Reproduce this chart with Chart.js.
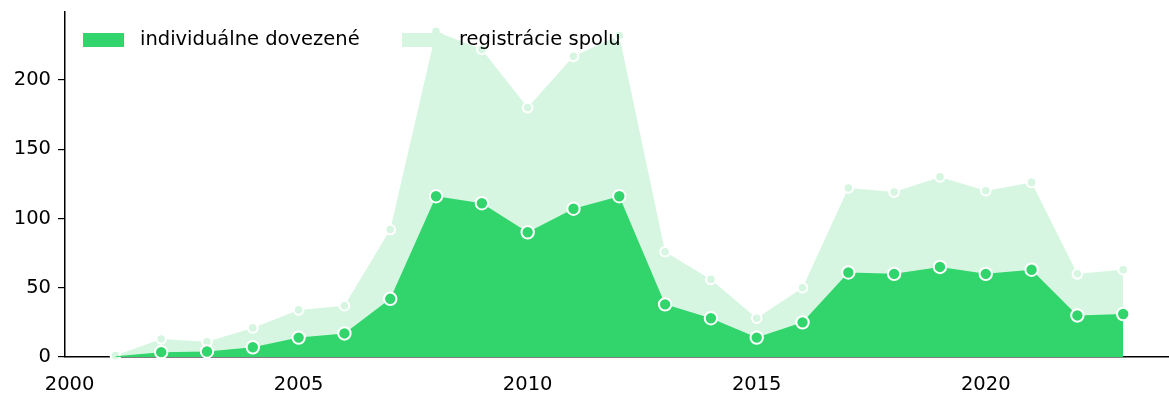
<!DOCTYPE html>
<html>
<head>
<meta charset="utf-8">
<script src="https://cdn.jsdelivr.net/npm/chart.js@4.4.1/dist/chart.umd.min.js"></script>
<style>
    html, body { margin: 0; padding: 0; background: #fff; }
    #wrap { width: 1169px; height: 394px; }
</style>
</head>
<body>
<div id="wrap"><canvas id="grafica" width="1169" height="394"></canvas></div>
<script>
const roky = [2001, 2002, 2003, 2004, 2005, 2006, 2007, 2008, 2009, 2010, 2011, 2012,
              2013, 2014, 2015, 2016, 2017, 2018, 2019, 2020, 2021, 2022, 2023];

const dovezene = [0.5, 3.5, 4, 7, 14, 17, 42, 116, 111, 90, 107, 116,
                  38, 28, 14, 25, 61, 60, 65, 60, 63, 30, 31];

const spolu = [1, 13, 11, 21, 34, 37, 92, 235, 222, 180, 217, 232,
               76, 56, 28, 50, 122, 119, 130, 120, 126, 60, 63];

const xTicks = [2000, 2005, 2010, 2015, 2020];
const yTicks = [0, 50, 100, 150, 200];

const nazvy = ["individuálne dovezené", "registrácie spolu"];

const ZELENA = "#32d46c";
const SVETLA = "#d6f6e2";
const FONT = "'DejaVu Sans', sans-serif";
const VELKOST = 19.5;

// legenda kreslena vnutri grafu
const legendaVnutri = {
    id: "legendaVnutri",
    afterDraw(chart) {
        const ctx = chart.ctx;
        const polozky = [
            { text: nazvy[0], farba: ZELENA, x: 83 },
            { text: nazvy[1], farba: SVETLA, x: 402 }
        ];
        ctx.save();
        ctx.font = VELKOST + "px " + FONT;
        ctx.textBaseline = "middle";
        polozky.forEach(p => {
            ctx.fillStyle = p.farba;
            ctx.fillRect(p.x, 33, 41, 14);
            ctx.fillStyle = "#000";
            ctx.fillText(p.text, p.x + 57, 40);
        });
        ctx.restore();
    }
};

const body = vals => roky.map((r, i) => ({ x: r, y: vals[i] }));

new Chart(document.getElementById("grafica"), {
    type: "line",
    data: {
        datasets: [
            {
                label: nazvy[0],
                data: body(dovezene),
                backgroundColor: ZELENA,
                borderColor: ZELENA,
                borderWidth: 0,
                fill: "origin",
                tension: 0,
                pointBackgroundColor: ZELENA,
                pointBorderColor: "#fff",
                pointBorderWidth: 2,
                pointRadius: roky.map((r, i) => i === 0 ? 0 : 6.2)
            },
            {
                label: nazvy[1],
                data: body(spolu),
                backgroundColor: SVETLA,
                borderColor: SVETLA,
                borderWidth: 0,
                fill: "origin",
                tension: 0,
                pointBackgroundColor: SVETLA,
                pointBorderColor: "#fff",
                pointBorderWidth: 2,
                pointRadius: 4.8
            }
        ]
    },
    options: {
        responsive: false,
        animation: false,
        clip: false,
        layout: { autoPadding: false, padding: { top: 12, right: 0, left: 0, bottom: 0 } },
        plugins: {
            legend: { display: false },
            tooltip: { enabled: false }
        },
        scales: {
            x: {
                type: "linear",
                min: 1999.9,
                max: 2024,
                afterBuildTicks: s => { s.ticks = xTicks.map(v => ({ value: v })); },
                afterFit: s => { s.height = 37; s.paddingLeft = 0; s.paddingRight = 0; },
                grid: { display: false, drawTicks: false },
                border: { color: "#000", width: 1.5 },
                ticks: {
                    color: "#000",
                    font: { family: FONT, size: VELKOST },
                    padding: 16,
                    maxRotation: 0,
                    callback: v => String(v)
                }
            },
            y: {
                min: 0,
                max: 249,
                afterBuildTicks: s => { s.ticks = yTicks.map(v => ({ value: v })); },
                afterFit: s => { s.width = 65; s.paddingTop = 0; s.paddingBottom = 0; },
                grid: {
                    drawOnChartArea: false,
                    drawTicks: true,
                    tickLength: 7,
                    color: "#000",
                    lineWidth: 1.2
                },
                border: { color: "#000", width: 1.5 },
                ticks: {
                    color: "#000",
                    font: { family: FONT, size: VELKOST },
                    padding: 7
                }
            }
        }
    },
    plugins: [legendaVnutri]
});
</script>
</body>
</html>
